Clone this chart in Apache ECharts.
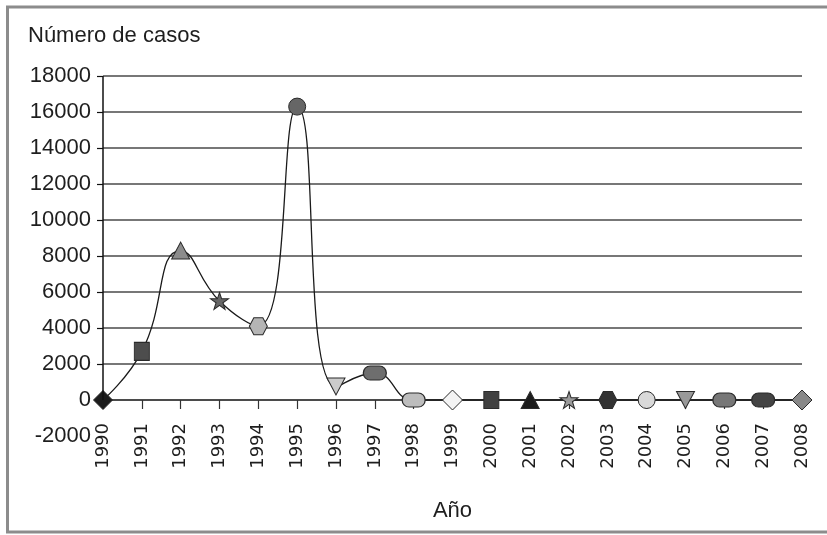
<!DOCTYPE html>
<html>
<head>
<meta charset="utf-8">
<script src="https://cdn.jsdelivr.net/npm/echarts@6/dist/echarts.min.js"></script>
<style>
html,body{margin:0;padding:0;background:#fff;}
#chart{width:827px;height:535px;}
</style>
</head>
<body>
<div id="chart"></div>
<script>
// ---- data ----
const years = ['1990','1991','1992','1993','1994','1995','1996','1997','1998','1999',
               '2000','2001','2002','2003','2004','2005','2006','2007','2008'];
const cases = [0, 2700, 8300, 5500, 4100, 16300, 750, 1500, 0, 0,
               0, 0, 0, 0, 0, 0, 0, 0, 0];
const yTicks = [0, 2000, 4000, 6000, 8000, 10000, 12000, 14000, 16000, 18000];

// ---- marker styles (one per year) ----
const HEX = 'path://M25 0 L75 0 L100 50 L75 100 L25 100 L0 50 Z';
const STAR = 'path://M50 0 L61.8 35.4 L100 35.4 L69.1 57.3 L80.9 95 L50 72.5 L19.1 95 L30.9 57.3 L0 35.4 L38.2 35.4 Z';
const PILL = 'path://M30 0 L70 0 A30 30 0 0 1 70 60 L30 60 A30 30 0 0 1 30 0 Z';
const markerShapes = ['diamond','rect','triangle',STAR,HEX,'circle','triangle',PILL,PILL,'diamond',
                      'rect','triangle',STAR,HEX,'circle','triangle',PILL,PILL,'diamond'];
const markerRotate = [0,0,0,0,0,0,180,0,0,0,0,0,0,0,0,180,0,0,0];
const markerSizes = [[19,19],[15,18],[18,17],[18,17],[18,17],[17,17],[18,17],[23,14],[23,14],[20,20],
                     [15,17],[18,17],[18,17],[18,17],[17,17],[18,17],[23,14],[23,14],[20,20]];
const markerColors = ['#1c1c1c','#4d4d4d','#8c8c8c','#666666','#b5b5b5','#666666','#cccccc','#6e6e6e','#bdbdbd','#f4f4f4',
                      '#404040','#1c1c1c','#9a9a9a','#333333','#d9d9d9','#999999','#777777','#444444','#888888'];

const seriesData = cases.map((v, i) => ({
  value: v,
  symbol: markerShapes[i],
  symbolSize: markerSizes[i],
  symbolRotate: markerRotate[i],
  itemStyle: { color: markerColors[i], borderColor: '#2a2a2a', borderWidth: 1 }
}));

const chart = echarts.init(document.getElementById('chart'), null, {renderer: 'canvas'});
const FONT = 'Liberation Sans, Arial, sans-serif';
chart.setOption({
  animation: false,
  backgroundColor: '#ffffff',
  title: {
    text: 'Número de casos',
    left: 28, top: 25, padding: 0,
    textStyle: { fontFamily: FONT, fontSize: 22, fontWeight: 'normal', color: '#1e1e1e' }
  },
  graphic: [{
    type: 'rect',
    shape: { x: 7.5, y: 7, width: 900, height: 525 },
    style: { fill: 'none', stroke: '#8c8c8c', lineWidth: 3 },
    silent: true, z: -1
  }],
  grid: { left: 103, right: 25, top: 76, bottom: 99, containLabel: false, outerBoundsMode: 'none' },
  xAxis: {
    type: 'category',
    data: years,
    boundaryGap: false,
    name: 'Año',
    nameLocation: 'middle',
    nameGap: 64,
    nameMoveOverlap: false,
    nameTextStyle: { fontFamily: FONT, fontSize: 22, color: '#1e1e1e' },
    axisLine: { onZero: true, lineStyle: { color: '#111', width: 1.5 } },
    axisTick: { show: true, length: 9, lineStyle: { color: '#333', width: 1.2 } },
    axisLabel: { rotate: 90, margin: -13, fontFamily: 'DejaVu Sans, sans-serif', fontSize: 18, color: '#1e1e1e' },
    splitLine: { show: false }
  },
  yAxis: {
    type: 'value',
    min: -2000, max: 18000, interval: 2000,
    axisLine: { show: false },
    axisTick: { show: true, length: 6, customValues: yTicks, lineStyle: { color: '#111', width: 1.2 } },
    axisLabel: { margin: 12, fontFamily: FONT, fontSize: 22, color: '#1e1e1e', formatter: v => String(v) },
    splitLine: { show: true, showMinLine: false, lineStyle: { color: '#4a4a4a', width: 1.6 } }
  },
  series: [{
    type: 'line',
    data: seriesData,
    smooth: 0.5,
    lineStyle: { color: '#1a1a1a', width: 1.3 },
    showAllSymbol: true,
    z: 3,
    markLine: {
      silent: true,
      symbol: 'none',
      label: { show: false },
      lineStyle: { type: 'solid', color: '#111', width: 1.5 },
      data: [[{ coord: [years[0], 0] }, { coord: [years[0], yTicks[yTicks.length - 1]] }]]
    }
  }]
});
</script>
</body>
</html>
